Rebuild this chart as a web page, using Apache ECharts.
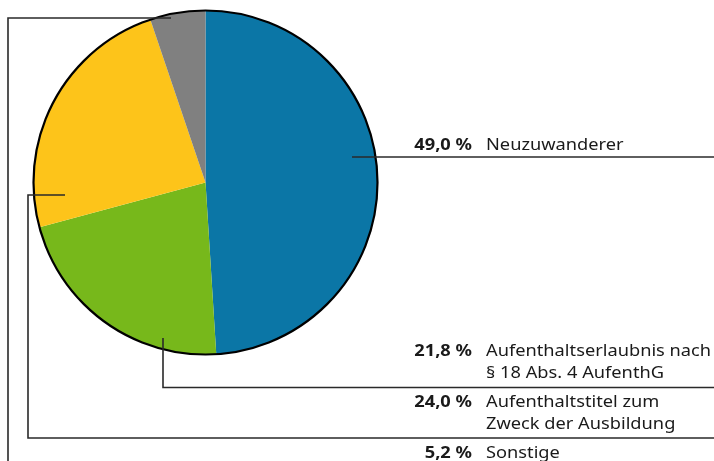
<!DOCTYPE html>
<html><head><meta charset="utf-8">
<script src="https://cdn.jsdelivr.net/npm/echarts@6/dist/echarts.min.js"></script>
<style>html,body{margin:0;padding:0;background:#fff}#c{width:714px;height:461px}</style>
</head><body><div id="c"></div>
<script>
const categories = ['Neuzuwanderer', 'Aufenthaltserlaubnis nach\n§ 18 Abs. 4 AufenthG', 'Aufenthaltstitel zum\nZweck der Ausbildung', 'Sonstige'];
const values = [49.0, 21.8, 24.0, 5.2];
const percentLabels = ['49,0 %', '21,8 %', '24,0 %', '5,2 %'];
const colors = ['#0b76a6', '#77b81b', '#fdc41a', '#808080'];

const chart = echarts.init(document.getElementById('c'), null, {renderer: 'canvas'});
const cx = 205.5, cy = 182.5, R = 172;
const FONT = '"Noto Sans", sans-serif';
const FS = 16;
const SX = 1.14;

// label layout (annotation positions)
const labelY = [[145], [351, 373], [402, 424], [453]];
const lines = [
  [[352,157],[714,157]],
  [[163,338],[163,387.5],[714,387.5]],
  [[65,195],[28,195],[28,438],[714,438]],
  [[171,18],[8,18],[8,461]]
];

const graphic = [];
graphic.push({type:'circle', shape:{cx:cx, cy:cy, r:R}, style:{fill:null, stroke:'#000', lineWidth:2.2}, z:10, silent:true});
lines.forEach(pts => graphic.push({type:'polyline', shape:{points:pts}, style:{stroke:'#2a2a2a', lineWidth:1.6, fill:null}, z:11, silent:true}));
categories.forEach((name, i) => {
  graphic.push({type:'text', x:472, y:labelY[i][0], scaleX:SX, style:{text:percentLabels[i], font:'bold '+FS+'px '+FONT, fill:'#1a1a1a', align:'right', verticalAlign:'middle'}, z:12});
  name.split('\n').forEach((ln, j) => {
    graphic.push({type:'text', x:486, y:labelY[i][j], scaleX:SX, style:{text:ln, font:FS+'px '+FONT, fill:'#1a1a1a', align:'left', verticalAlign:'middle'}, z:12});
  });
});

chart.setOption({
  animation:false,
  series:[{
    type:'pie', center:[cx, cy], radius:R, startAngle:90, clockwise:true,
    label:{show:false}, labelLine:{show:false},
    itemStyle:{borderWidth:0},
    emphasis:{disabled:true},
    data: values.map((v,i)=>({value:v, name:categories[i], itemStyle:{color:colors[i]}}))
  }],
  graphic: graphic
});
</script></body></html>
